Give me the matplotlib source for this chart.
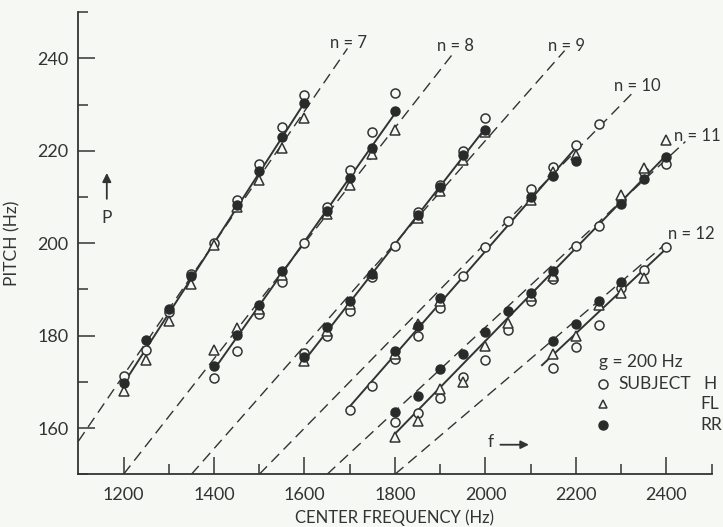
import matplotlib
matplotlib.use("Agg")
import matplotlib.pyplot as plt
import numpy as np

nan = np.nan

# ---- data ----
harmonic_n = [7, 8, 9, 10, 11, 12]
dash_end_f = [1695, 1930, 2175, 2328, 2442, 2392]   # where each P=f/n dashed line stops
label_pos_f = [1698, 1934, 2179, 2336, 2468, 2455]
label_pos_p = [243.3, 242.6, 242.6, 234.0, 223.2, 202.1]

f7 = [1200, 1250, 1300, 1350, 1400, 1450, 1500, 1550, 1600]
h7 = [171.3, 176.8, 185.1, 193.4, 200.0, 209.4, 217.2, 225.2, 232.0]
fl7 = [168.0, 174.7, 183.1, 191.2, 199.6, 207.8, 213.6, 220.5, 227.0]
rr7 = [169.7, 179.0, 185.8, 192.8, nan, 208.2, 215.7, 222.9, 230.4]

f8 = [1400, 1450, 1500, 1550, 1600, 1650, 1700, 1750, 1800]
h8 = [170.8, 176.7, 184.7, 191.7, 200.0, 207.8, 215.8, 224.0, 232.5]
fl8 = [176.9, 181.6, 185.8, 193.2, nan, 206.4, 212.7, 219.3, 224.5]
rr8 = [173.5, 180.2, 186.7, 193.9, nan, 207.0, 214.2, 220.6, 228.5]

f9 = [1600, 1650, 1700, 1750, 1800, 1850, 1900, 1950, 2000]
h9 = [176.3, 179.9, 185.4, 192.6, 199.3, 206.8, 212.6, 220.0, 227.0]
fl9 = [174.5, 181.0, 186.8, 193.6, nan, 205.5, 211.2, 218.0, 224.0]
rr9 = [175.4, 181.8, 187.6, 193.3, nan, 206.0, 212.2, 219.0, 224.5]

f10 = [1700, 1750, 1800, 1850, 1900, 1950, 2000, 2050, 2100, 2150, 2200, 2250]
h10 = [164.0, 169.0, 175.0, 180.0, 186.0, 192.8, 199.2, 204.8, 211.8, 216.4, 221.2, 225.8]
fl10 = [nan, nan, 176.0, 182.5, 187.5, nan, nan, nan, 209.3, 215.5, 219.1, nan]
rr10 = [nan, nan, 176.7, 182.0, 188.2, nan, nan, nan, 210.1, 214.6, 217.7, nan]

f11 = [1800, 1850, 1900, 1950, 2000, 2050, 2100, 2150, 2200, 2250, 2300, 2350, 2400]
h11 = [161.4, 163.2, 166.5, 171.0, 174.8, 181.3, 187.6, 192.3, 199.4, 203.7, 209.3, 215.4, 217.2]
fl11 = [158.1, 161.6, 168.4, 170.0, 177.8, 182.8, 188.6, 193.0, nan, nan, 210.4, 216.3, 222.3]
rr11 = [163.4, 167.0, 172.7, 176.1, 180.8, 185.3, 189.2, 193.9, nan, nan, 208.4, 213.9, 218.6]

f12 = [2150, 2200, 2250, 2300, 2350, 2400]
h12 = [173.0, 177.5, 182.2, 190.3, 194.2, 199.1]
fl12 = [176.0, 180.0, 186.7, 189.2, 192.4, nan]
rr12 = [178.8, 182.6, 187.4, 191.5, nan, nan]

fit_start = [1200, 1400, 1600, 1700, 1800, 2125]
fit_stop = [1600, 1800, 2000, 2200, 2400, 2400]

x_ticks_major = [1200, 1400, 1600, 1800, 2000, 2200, 2400]
y_ticks_major = [160, 180, 200, 220, 240]

groups = [(f7, h7, fl7, rr7), (f8, h8, fl8, rr8), (f9, h9, fl9, rr9),
          (f10, h10, fl10, rr10), (f11, h11, fl11, rr11), (f12, h12, fl12, rr12)]

# ---- style ----
BG = "#f6f8f4"
INK = "#333333"
plt.rcParams["font.family"] = ["Lato", "DejaVu Sans"]
TXT = dict(color=INK, fontsize=12.5)

fig = plt.figure(figsize=(7.23, 5.27), dpi=100, facecolor=BG)
ax = fig.add_axes([0.1083, 0.100, 0.876, 0.877])
ax.set_facecolor(BG)
ax.set_xlim(1100, 2500)
ax.set_ylim(150, 250)

# dashed P = f/n lines
for n, fend, lf, lp in zip(harmonic_n, dash_end_f, label_pos_f, label_pos_p):
    fstart = max(1100, 150 * n)
    fx = np.linspace(fstart, fend, 50)
    ax.plot(fx, fx / n, ls=(0, (8, 4.5)), color=INK, lw=1.0, zorder=1)
    ax.text(lf, lp, f"n = {n}", ha="center", va="center", color=INK, fontsize=12)

# fitted solid lines + points
for (f, h, fl, rr), a, b in zip(groups, fit_start, fit_stop):
    fa = np.array(f, float)
    allf = np.concatenate([fa, fa, fa])
    allp = np.concatenate([np.array(h), np.array(fl), np.array(rr)])
    ok = ~np.isnan(allp)
    k, c = np.polyfit(allf[ok], allp[ok], 1)
    xx = np.array([a, b], float)
    ax.plot(xx, k * xx + c, color=INK, lw=1.4, zorder=2)
    ax.plot(f, h, ls="none", marker="o", ms=6.5, mfc=BG, mec=INK, mew=1.1, zorder=3)
    ax.plot(f, fl, ls="none", marker="^", ms=6.5, mfc=BG, mec=INK, mew=1.1, zorder=4)
    ax.plot(f, rr, ls="none", marker="o", ms=6.5, mfc="#2a2a2a", mec="#2a2a2a", mew=1.0, zorder=5)

# legend as text
ax.text(2250, 174.2, "g = 200 Hz", ha="left", va="center", **TXT)
ax.plot([2260], [169.5], ls="none", marker="o", ms=6.5, mfc=BG, mec=INK, mew=1.1)
ax.plot([2260], [165.2], ls="none", marker="^", ms=5.5, mfc=BG, mec=INK, mew=1.1)
ax.plot([2260], [160.6], ls="none", marker="o", ms=6.5, mfc="#2a2a2a", mec="#2a2a2a")
ax.text(2293, 169.5, "SUBJECT", ha="left", va="center", **TXT)
ax.text(2481, 169.5, "H", ha="left", va="center", **TXT)
ax.text(2475, 165.2, "FL", ha="left", va="center", **TXT)
ax.text(2475, 160.6, "RR", ha="left", va="center", **TXT)

# arrows
ax.annotate("", xy=(1163, 215.2), xytext=(1163, 209.6),
            arrowprops=dict(arrowstyle="-|>", color=INK, lw=1.3, mutation_scale=13,
                            shrinkA=0, shrinkB=0))
ax.text(1163, 205.4, "P", ha="center", va="center", **TXT)
ax.annotate("", xy=(2096, 156.4), xytext=(2033, 156.4),
            arrowprops=dict(arrowstyle="-|>", color=INK, lw=1.3, mutation_scale=12,
                            shrinkA=0, shrinkB=0))
ax.text(2011, 157.0, "f", ha="center", va="center", **TXT)

# axes
for s in ["top", "right"]:
    ax.spines[s].set_visible(False)
for s in ["left", "bottom"]:
    ax.spines[s].set_color(INK)
    ax.spines[s].set_linewidth(1.3)
ax.set_xticks(x_ticks_major)
ax.set_xticks(np.arange(1300, 2600, 200), minor=True)
ax.set_yticks(y_ticks_major)
ax.set_yticks(np.arange(150, 260, 20), minor=True)
ax.tick_params(which="major", direction="in", length=12, width=1.1, color=INK,
               labelsize=13, labelcolor=INK)
ax.tick_params(which="minor", direction="in", length=7, width=1.1, color=INK)
ax.tick_params(axis="x", which="major", pad=9)
ax.tick_params(axis="y", which="major", pad=7)

ax.set_xlabel("CENTER FREQUENCY (Hz)", fontsize=12, color=INK, labelpad=5)
ax.set_ylabel("PITCH (Hz)", fontsize=12.5, color=INK, labelpad=12)

fig.savefig("out.png", dpi=100, facecolor=BG)
